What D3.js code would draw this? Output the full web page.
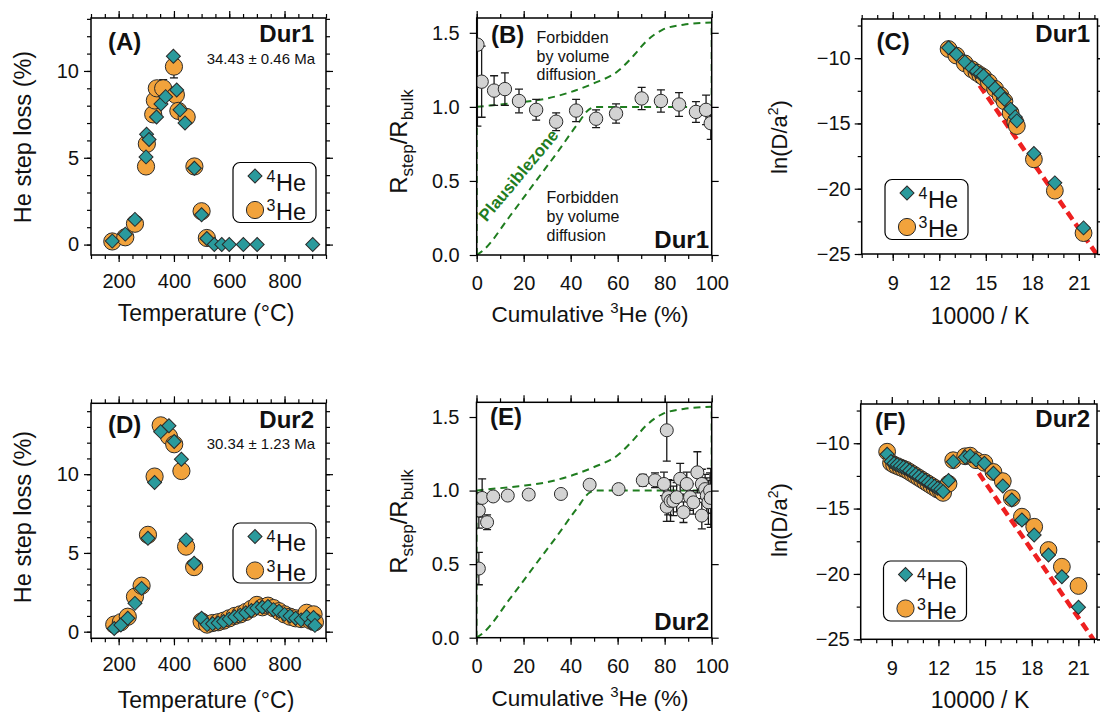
<!DOCTYPE html>
<html><head><meta charset="utf-8">
<script src="https://cdn.jsdelivr.net/npm/d3@7"></script>
<style>
body{margin:0;background:#fff}
svg{display:block}
text{font-family:"Liberation Sans",Arial,Helvetica,sans-serif}
</style>
</head><body>
<svg id="c" width="1100" height="712"></svg>
<script>
// ---------------- DATA ----------------
// Panel A (Dur1) step loss vs temperature
const tempA4 = [177,224,259,299,301,310,337,353,370,398,410,422,440,474,500,519,546,573,600,651,701,902];
const he4A   = [0.2,0.6,1.45,5.05,6.35,6.05,7.35,8.1,8.52,10.85,8.9,7.76,7.0,4.4,1.72,0.35,0,0,0,0,0,0];
const tempA3 = [177,224,259,299,302,325,331,338,361,400,407,416,446,474,500,519];
const he3A   = [0.18,0.42,1.2,4.5,5.8,7.5,8.3,9.0,9.0,10.25,8.62,7.7,7.35,4.5,1.92,0.38];
const errA3  = [0.08,0.1,0.15,0.2,0.25,0.3,0.3,0.35,0.5,0.65,0.35,0.3,0.3,0.2,0.12,0.06];

// Panel D (Dur2)
const tempD = [184,208,233,259,283,306,330,352,382,401,427,444,473,500,520,540,560,580,600,620,640,660,680,700,720,740,760,780,800,820,840,860,880,895,905,910];
const he4D  = [0.2,0.42,0.85,1.8,2.75,5.93,9.47,12.7,13.07,12.07,10.95,5.83,4.35,0.85,0.45,0.5,0.55,0.65,0.8,0.95,1.05,1.2,1.35,1.5,1.55,1.6,1.4,1.3,1.1,1.0,0.85,0.75,0.95,0.55,0.9,0.4];
const he3D  = [0.45,0.6,0.95,2.22,2.92,6.15,9.85,13.1,12.4,11.9,10.2,5.4,4.1,0.65,0.45,0.55,0.6,0.7,0.85,1.0,1.1,1.25,1.45,1.7,1.55,1.65,1.5,1.3,1.1,0.95,0.85,0.8,1.2,0.7,1.1,0.6];

// Panel B (Dur1) ratio vs cumulative 3He
const cumB   = [0.3,2.1,7.4,12.0,18.0,25.3,33.8,42.3,50.8,59.3,70.2,78.4,86.1,93.3,97.6,99.6];
const ratioB = [1.42,1.17,1.11,1.12,1.04,0.98,0.90,0.975,0.92,0.955,1.057,1.04,1.016,0.966,0.98,0.89];
const errB   = [0.55,0.24,0.1,0.11,0.08,0.07,0.06,0.075,0.06,0.065,0.075,0.075,0.08,0.07,0.1,0.11];

// Panel E (Dur2)
const cumE   = [1.0,1.0,2.4,4.5,7.1,13.3,22.2,35.9,48.1,60.4,70.7,75.9,79.7,80.9,80.9,81.5,82.5,83.7,85.1,86.6,88.0,89.4,90.8,92.2,93.9,95.8,95.8,97.2,97.9,98.6,99.3,99.6];
const ratioE = [0.47,0.865,0.95,0.785,0.96,0.966,0.973,0.977,1.04,1.01,1.07,1.07,1.045,1.41,0.89,0.955,0.93,0.93,0.955,1.08,0.853,1.045,0.955,0.92,1.124,1.045,0.83,1.01,0.966,0.92,1.0,0.95];
const errE   = [0.11,0.12,0.13,0.05,0.03,0.03,0.02,0.02,0.03,0.03,0.04,0.05,0.08,0.21,0.1,0.12,0.14,0.1,0.1,0.105,0.07,0.08,0.09,0.08,0.14,0.1,0.09,0.1,0.12,0.15,0.12,0.2];

// Volume-diffusion envelope (B, E)
const envUpperX = [0,6,18,30,40,50,60,67,72,79,88,100];
const envUpperY = [1.0,1.01,1.03,1.057,1.10,1.16,1.24,1.35,1.44,1.52,1.555,1.57];
const envLowerX = [0,3,14,25.5,34,42.6,48,50.5,60,100];
const envLowerY = [0,0.035,0.26,0.506,0.686,0.877,0.985,1.0,1.0,1.0];

// Panel C (Dur1) Arrhenius
const invTC = [12.6,13.1,13.65,14.1,14.4,14.65,14.85,15.2,15.6,15.95,16.2,16.6,16.9,17.0,18.1,19.45,21.3];
const lnD4C = [-9.2,-9.7,-10.3,-10.75,-11.0,-11.2,-11.35,-11.8,-12.3,-12.75,-13.15,-13.9,-14.5,-14.8,-17.3,-19.55,-23.0];
const lnD3C = [-9.3,-9.8,-10.4,-10.85,-11.1,-11.3,-11.45,-11.85,-12.35,-12.85,-13.3,-14.2,-14.9,-15.2,-17.75,-20.15,-23.4];
const fitC  = [[14.6,-12.1],[22.6,-25.8]];

// Panel F (Dur2) Arrhenius
const invTF = [8.7,8.95,9.15,9.35,9.55,9.75,9.95,10.15,10.35,10.55,10.75,10.95,11.15,11.35,11.55,11.75,11.95,12.15,12.3,12.65,12.95,13.72,14.04,14.42,14.96,15.54,16.14,16.72,17.37,18.16,19.08,19.94,21.01];
const lnD4F = [-10.85,-11.4,-11.55,-11.65,-11.75,-11.85,-11.95,-12.1,-12.25,-12.4,-12.55,-12.7,-12.85,-13.0,-13.15,-13.3,-13.45,-13.55,-13.7,-12.85,-11.41,-11.07,-10.97,-11.28,-11.53,-12.3,-13.27,-14.34,-15.87,-17.02,-18.55,-20.21,-22.55];
const lnD3F = [-10.65,-11.5,-11.65,-11.75,-11.85,-11.95,-12.05,-12.2,-12.35,-12.5,-12.65,-12.8,-12.95,-13.1,-13.25,-13.4,-13.55,-13.65,-13.8,-13.1,-11.3,-11.0,-10.95,-11.3,-11.5,-12.2,-12.9,-14.2,-15.62,-16.39,-18.17,-19.45,-20.92];
const fitF  = [[14.6,-12.3],[22.6,-26.1]];

// Tick labels
const ticksTempX = [200,400,600,800];
const ticksLossY = [0,5,10];
const ticksCumX  = [0,20,40,60,80,100];
const ticksRatioY = [0,0.5,1.0,1.5];
const ticksInvX  = [9,12,15,18,21];
const ticksLnY   = [-25,-20,-15,-10];

// ---------------- STYLE ----------------
const TEAL = "#2a9a9c", ORANGE = "#f2a33c", GREY = "#d3d3d3", EDGE = "#2a2a2a";
const GREEN = "#1f7d1f", RED = "#ee2020";
const FONT = '"Liberation Sans",Arial,Helvetica,sans-serif';

const svg = d3.select("#c");
let clipId = 0;

function makePanel(box, xd, yd) {
  const x = d3.scaleLinear().domain(xd).range([box[0], box[1]]);
  const y = d3.scaleLinear().domain(yd).range([box[3], box[2]]);
  const id = "clip" + (clipId++);
  svg.append("clipPath").attr("id", id).append("rect")
    .attr("x", box[0]).attr("y", box[2]).attr("width", box[1]-box[0]).attr("height", box[3]-box[2]);
  const data = svg.append("g").attr("clip-path", `url(#${id})`);
  return {x, y, box, data};
}

function axes(P, s) {
  const {x, y, box} = P;
  const g = svg.append("g");
  const add = (fn, scale, vals, size, fmt, tx, ty, pad) => {
    const a = fn(scale).tickValues(vals).tickSize(size).tickPadding(pad || 3)
      .tickFormat(fmt ? fmt : () => "");
    const gg = g.append("g").attr("transform", `translate(${tx},${ty})`).call(a);
    gg.select(".domain").remove();
    gg.selectAll("line").attr("stroke", "#000").attr("stroke-width", 1.2);
    gg.selectAll("text").attr("font-size", 20).attr("fill", "#111").attr("font-family", FONT);
  };
  add(d3.axisBottom, x, s.xMinor, 4, null, 0, box[3]);
  add(d3.axisBottom, x, s.xMajor, 7, s.xFmt, 0, box[3], s.xPad);
  add(d3.axisTop, x, s.xMinor, 4, null, 0, box[2]);
  add(d3.axisTop, x, s.xMajor, 7, null, 0, box[2]);
  add(d3.axisLeft, y, s.yMinor, 4, null, box[0], 0);
  add(d3.axisLeft, y, s.yMajor, 7, s.yFmt, box[0], 0, s.yPad);
  add(d3.axisRight, y, s.yMinor, 4, null, box[1], 0);
  add(d3.axisRight, y, s.yMajor, 7, null, box[1], 0);
  g.append("rect").attr("x", box[0]).attr("y", box[2])
    .attr("width", box[1]-box[0]).attr("height", box[3]-box[2])
    .attr("fill", "none").attr("stroke", "#000").attr("stroke-width", 1.5);
}

const diamondPath = d3.symbol(d3.symbolSquare, 98)();
function diamonds(P, xs, ys) {
  P.data.append("g").selectAll("path").data(xs.map((v,i)=>[v, ys[i]])).join("path")
    .attr("d", diamondPath)
    .attr("transform", d => `translate(${P.x(d[0])},${P.y(d[1])}) rotate(45)`)
    .attr("fill", TEAL).attr("stroke", EDGE).attr("stroke-width", 1);
}
function circles(P, xs, ys, r, fill) {
  P.data.append("g").selectAll("circle").data(xs.map((v,i)=>[v, ys[i]])).join("circle")
    .attr("cx", d => P.x(d[0])).attr("cy", d => P.y(d[1])).attr("r", r)
    .attr("fill", fill).attr("stroke", EDGE).attr("stroke-width", 1);
}
function errbars(P, xs, ys, es, cap) {
  const g = P.data.append("g").attr("stroke", "#1a1a1a").attr("stroke-width", 1.3);
  const d = xs.map((v,i)=>({x:v, y:ys[i], e:es[i]}));
  g.selectAll("line.v").data(d).join("line").attr("class","v")
    .attr("x1", d=>P.x(d.x)).attr("x2", d=>P.x(d.x))
    .attr("y1", d=>P.y(d.y-d.e)).attr("y2", d=>P.y(d.y+d.e));
  g.selectAll("line.t").data(d).join("line").attr("class","t")
    .attr("x1", d=>P.x(d.x)-cap).attr("x2", d=>P.x(d.x)+cap)
    .attr("y1", d=>P.y(d.y+d.e)).attr("y2", d=>P.y(d.y+d.e));
  g.selectAll("line.b").data(d).join("line").attr("class","b")
    .attr("x1", d=>P.x(d.x)-cap).attr("x2", d=>P.x(d.x)+cap)
    .attr("y1", d=>P.y(d.y-d.e)).attr("y2", d=>P.y(d.y-d.e));
}
function text(x, y, str, size, opts = {}) {
  const t = svg.append("text").attr("x", x).attr("y", y).attr("font-size", size)
    .attr("fill", opts.fill || "#111").attr("text-anchor", opts.anchor || "start")
    .attr("font-weight", opts.bold ? "bold" : "normal").text(str);
  if (opts.rotate !== undefined) t.attr("transform", `rotate(${opts.rotate},${x},${y})`);
  return t;
}
function legend(P, bx, by) {
  const g = svg.append("g").attr("transform", `translate(${bx},${by})`);
  g.append("rect").attr("width", 83).attr("height", 60).attr("rx", 7)
    .attr("fill", "#fff").attr("stroke", "#000").attr("stroke-width", 1.2);
  g.append("path").attr("d", diamondPath).attr("transform", "translate(22,13.5) rotate(45)")
    .attr("fill", TEAL).attr("stroke", EDGE);
  g.append("circle").attr("cx", 22).attr("cy", 47.5).attr("r", 8.6)
    .attr("fill", ORANGE).attr("stroke", EDGE);
  [["4", 28], ["3", 57.5]].forEach(([sup, base]) => {
    const t = g.append("text").attr("x", 33.5).attr("y", base).attr("font-size", 23.5).attr("fill", "#111");
    t.append("tspan").attr("font-size", 16).attr("dy", -9).text(sup);
    t.append("tspan").attr("dy", 9).attr("x", 43).text("He");
  });
}
function xTitleCum(cx, base) {
  const t = svg.append("text").attr("x", cx).attr("y", base).attr("font-size", 22.5)
    .attr("text-anchor", "middle").attr("fill", "#111");
  t.append("tspan").text("Cumulative ");
  t.append("tspan").attr("font-size", 15).attr("dy", -9).text("3");
  t.append("tspan").attr("dy", 9).text("He (%)");
}
function yTitleRatio(cx, cy) {
  const t = svg.append("text").attr("x", cx).attr("y", cy).attr("font-size", 24)
    .attr("text-anchor", "middle").attr("fill", "#111")
    .attr("transform", `rotate(-90,${cx},${cy})`);
  t.append("tspan").text("R");
  t.append("tspan").attr("font-size", 17).attr("dy", 6).text("step");
  t.append("tspan").attr("dy", -6).text("/R");
  t.append("tspan").attr("font-size", 17).attr("dy", 6).text("bulk");
}
function yTitleLn(cx, cy) {
  const t = svg.append("text").attr("x", cx).attr("y", cy).attr("font-size", 22)
    .attr("text-anchor", "middle").attr("fill", "#111")
    .attr("transform", `rotate(-90,${cx},${cy})`);
  t.append("tspan").text("ln(D/a");
  t.append("tspan").attr("font-size", 14).attr("dy", -9).text("2");
  t.append("tspan").attr("dy", 9).text(")");
}
function envelope(P) {
  const line = d3.line().x(d=>P.x(d[0])).y(d=>P.y(d[1])).curve(d3.curveMonotoneX);
  const st = s => s.attr("fill","none").attr("stroke",GREEN).attr("stroke-width",2).attr("stroke-dasharray","7,5");
  st(P.data.append("path").attr("d", line(envUpperX.map((v,i)=>[v, envUpperY[i]]))));
  st(P.data.append("path").attr("d", line(envLowerX.map((v,i)=>[v, envLowerY[i]]))));
  const vl = d3.line().x(d=>P.x(d[0])).y(d=>P.y(d[1]));
  st(P.data.append("path").attr("d", vl([[envLowerX[envLowerX.length-1], envLowerY[envLowerY.length-1]],[envUpperX[envUpperX.length-1], envUpperY[envUpperY.length-1]]])));
  st(P.data.append("path").attr("d", vl([[envLowerX[0], envLowerY[0]],[envUpperX[0], envUpperY[0]]])));
}
function fitLine(P, pts) {
  const l = d3.line().x(d=>P.x(d[0])).y(d=>P.y(d[1]));
  P.data.append("path").attr("d", l(pts)).attr("fill","none").attr("stroke",RED)
    .attr("stroke-width",4.5).attr("stroke-dasharray","9,5");
}

const fmtInt = d3.format("d");
const fmt1 = d3.format(".1f");

// ---------- Panel A ----------
{
  const P = makePanel([91,326,18,255], [100,950], [-0.6,13.05]);
  errbars(P, tempA3, he3A, errA3, 4);
  circles(P, tempA3, he3A, 8.6, ORANGE);
  diamonds(P, tempA4, he4A);
  axes(P, {xMinor: d3.range(100,951,50), xMajor: ticksTempX, xFmt: fmtInt, xPad: 12,
           yMinor: d3.range(0,14,1), yMajor: ticksLossY, yFmt: fmtInt, yPad: 5});
  legend(P, 233, 162.5);
  text(108, 50, "(A)", 24, {bold:true});
  text(314, 41.5, "Dur1", 24, {bold:true, anchor:"end"});
  text(315, 63.5, "34.43 ± 0.46 Ma", 15, {anchor:"end"});
  text(30.5, 137, "He step loss (%)", 23.5, {anchor:"middle", rotate:-90});
  text(206, 321, "Temperature (°C)", 23, {anchor:"middle"});
}
// ---------- Panel D ----------
{
  const P = makePanel([91,326,403.3,638.3], [100,950], [-0.42,14.5]);
  circles(P, tempD, he3D, 8.6, ORANGE);
  diamonds(P, tempD, he4D);
  axes(P, {xMinor: d3.range(100,951,50), xMajor: ticksTempX, xFmt: fmtInt, xPad: 12,
           yMinor: d3.range(0,15,1), yMajor: ticksLossY, yFmt: fmtInt, yPad: 5});
  legend(P, 233, 523);
  text(108, 433, "(D)", 24, {bold:true});
  text(314, 428, "Dur2", 24, {bold:true, anchor:"end"});
  text(315, 448.5, "30.34 ± 1.23 Ma", 15, {anchor:"end"});
  text(30.5, 517, "He step loss (%)", 23.5, {anchor:"middle", rotate:-90});
  text(206, 708, "Temperature (°C)", 23, {anchor:"middle"});
}
// ---------- Panel B ----------
{
  const P = makePanel([476.7,711.7,18,255], [0,100], [0,1.6]);
  envelope(P);
  errbars(P, cumB, ratioB, errB, 4);
  circles(P, cumB, ratioB, 6.7, GREY);
  axes(P, {xMinor: d3.range(0,101,10), xMajor: ticksCumX, xFmt: fmtInt, xPad: 14,
           yMinor: [], yMajor: ticksRatioY, yFmt: fmt1, yPad: 10});
  text(491, 43, "(B)", 24, {bold:true});
  text(709, 248, "Dur1", 24, {bold:true, anchor:"end"});
  [["Forbidden",43.3],["by volume",61.7],["diffusion",80]].forEach(([s,yy]) => text(536.5, yy, s, 16));
  [["Forbidden",203.3],["by volume",222],["diffusion",241]].forEach(([s,yy]) => text(546.5, yy, s, 16));
  text(523, 179, "Plausiblezone", 17, {bold:true, anchor:"middle", rotate:-50, fill:GREEN});
  yTitleRatio(406.7, 141.5);
  xTitleCum(590, 322);
}
// ---------- Panel E ----------
{
  const P = makePanel([476.5,711.7,402.3,637.7], [0,100], [0,1.6]);
  envelope(P);
  errbars(P, cumE, ratioE, errE, 4);
  circles(P, cumE, ratioE, 6.5, GREY);
  axes(P, {xMinor: d3.range(0,101,10), xMajor: ticksCumX, xFmt: fmtInt, xPad: 14,
           yMinor: [], yMajor: ticksRatioY, yFmt: fmt1, yPad: 10});
  text(490, 425, "(E)", 24, {bold:true});
  text(709, 630, "Dur2", 24, {bold:true, anchor:"end"});
  yTitleRatio(406.7, 521.5);
  xTitleCum(590, 706);
}
// ---------- Panel C ----------
{
  const P = makePanel([861.7,1097.5,19,254], [7,22.2], [-25,-7]);
  fitLine(P, fitC);
  circles(P, invTC, lnD3C, 8.4, ORANGE);
  diamonds(P, invTC, lnD4C);
  axes(P, {xMinor: d3.range(7,23,1), xMajor: ticksInvX, xFmt: fmtInt, xPad: 15,
           yMinor: d3.range(-25,-6,2.5), yMajor: ticksLnY, yFmt: fmtInt, yPad: 4});
  legend(P, 885, 179.5);
  text(876.5, 50, "(C)", 24, {bold:true});
  text(1090, 41.5, "Dur1", 24, {bold:true, anchor:"end"});
  yTitleLn(786.7, 137);
  text(980, 324, "10000 / K", 23, {anchor:"middle"});
}
// ---------- Panel F ----------
{
  const P = makePanel([860.7,1097,404,639.3], [7,22.2], [-25,-7]);
  fitLine(P, fitF);
  circles(P, invTF, lnD3F, 8.4, ORANGE);
  diamonds(P, invTF, lnD4F);
  axes(P, {xMinor: d3.range(7,23,1), xMajor: ticksInvX, xFmt: fmtInt, xPad: 15,
           yMinor: d3.range(-25,-6,2.5), yMajor: ticksLnY, yFmt: fmtInt, yPad: 4});
  legend(P, 883.5, 561);
  text(875, 430, "(F)", 24, {bold:true});
  text(1090, 427, "Dur2", 24, {bold:true, anchor:"end"});
  yTitleLn(786.7, 520);
  text(980, 708, "10000 / K", 23, {anchor:"middle"});
}
</script>
</body></html>
